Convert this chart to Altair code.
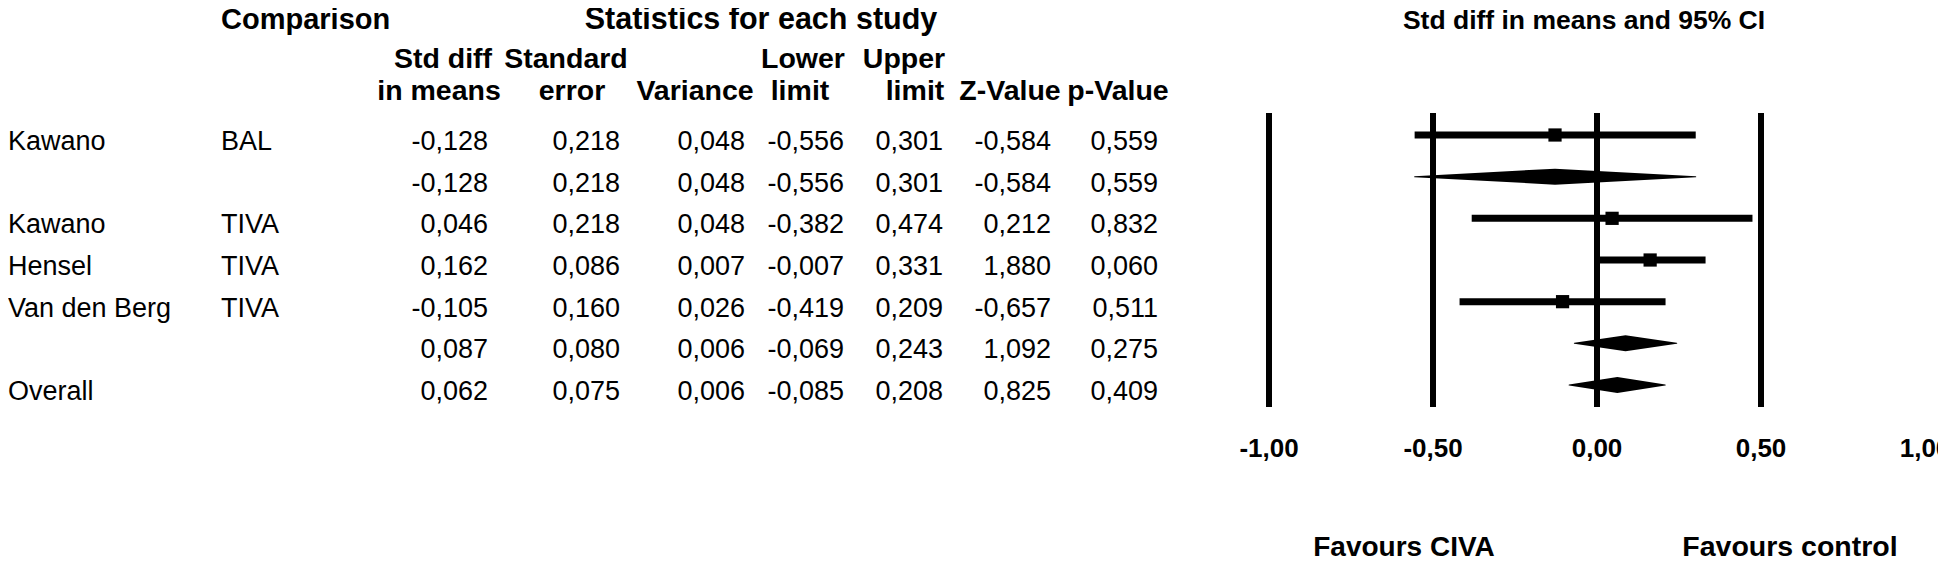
import altair as alt
import pandas as pd

# ---------------- data ----------------
studies = ["Kawano", "", "Kawano", "Hensel", "Van den Berg", "", "Overall"]
comparisons = ["BAL", "", "TIVA", "TIVA", "TIVA", "", ""]
std_diff = [-0.128, -0.128, 0.046, 0.162, -0.105, 0.087, 0.062]
std_err = [0.218, 0.218, 0.218, 0.086, 0.160, 0.080, 0.075]
variance = [0.048, 0.048, 0.048, 0.007, 0.026, 0.006, 0.006]
lower = [-0.556, -0.556, -0.382, -0.007, -0.419, -0.069, -0.085]
upper = [0.301, 0.301, 0.474, 0.331, 0.209, 0.243, 0.208]
z_value = [-0.584, -0.584, 0.212, 1.880, -0.657, 1.092, 0.825]
p_value = [0.559, 0.559, 0.832, 0.060, 0.511, 0.275, 0.409]
row_kind = ["study", "summary", "study", "study", "study", "summary", "summary"]

tick_values = [-1.0, -0.5, 0.0, 0.5, 1.0]
tick_labels = ["-1,00", "-0,50", "0,00", "0,50", "1,00"]
ref_lines = [-1.0, -0.5, 0.0, 0.5]

col_headers = [("Std diff", "in means"), ("Standard", "error"), ("", "Variance"),
               ("Lower", "limit"), ("Upper", "limit"), ("", "Z-Value"), ("", "p-Value")]
side_labels = ["Favours CIVA", "Favours control"]

# ---------------- layout constants ----------------
FONT = "Liberation Sans"
BODY = 27
HEAD = 28.5
W, H = 1930, 550
rows = list(range(len(studies)))

yscale = alt.Scale(domain=[0, 6], range=[127, 377])
xscale = alt.Scale(domain=[-1, 1], range=[1261, 1917])


def fmt(v):
    return f"{v:.3f}".replace(".", ",")


table = pd.DataFrame({
    "row": rows,
    "study": studies,
    "comp": comparisons,
    "c0": [fmt(v) for v in std_diff],
    "c1": [fmt(v) for v in std_err],
    "c2": [fmt(v) for v in variance],
    "c3": [fmt(v) for v in lower],
    "c4": [fmt(v) for v in upper],
    "c5": [fmt(v) for v in z_value],
    "c6": [fmt(v) for v in p_value],
    "est": std_diff,
    "lo": lower,
    "hi": upper,
    "kind": row_kind,
})

Y = alt.Y("row:Q", scale=yscale, axis=None)

layers = []


def text_col(field, xpos, align):
    return alt.Chart(table).mark_text(
        font=FONT, fontSize=BODY, align=align, baseline="alphabetic", dy=15, color="black"
    ).encode(x=alt.value(xpos), y=Y, text=f"{field}:N")


layers.append(text_col("study", 0, "left"))
layers.append(text_col("comp", 213, "left"))
right_edges = [480, 612, 737, 836, 935, 1043, 1150]
for i, xr in enumerate(right_edges):
    layers.append(text_col(f"c{i}", xr, "right"))


def label(txt, x, y, align="center", size=HEAD, bold=True):
    return alt.Chart(pd.DataFrame({"t": [txt]})).mark_text(
        font=FONT, fontSize=size, fontWeight="bold" if bold else "normal",
        align=align, baseline="alphabetic", color="black"
    ).encode(x=alt.value(x), y=alt.value(y), text="t:N")


layers.append(label("Comparison", 213, 21, align="left", size=29))
layers.append(label("Statistics for each study", 753, 21, size=30.5))
layers.append(label("Std diff in means and 95% CI", 1576, 21, size=26.5))

head_centers = [(435, 431), (558, 564), (687, 687), (795, 792), (896, 907), (1002, 1002), (1110, 1110)]
for (l1, l2), (x1, x2) in zip(col_headers, head_centers):
    if l1:
        layers.append(label(l1, x1, 60))
    layers.append(label(l2, x2, 92))

# reference lines
ref_df = pd.DataFrame({"v": ref_lines})
layers.append(alt.Chart(ref_df).mark_rule(color="black", strokeWidth=6).encode(
    x=alt.X("v:Q", scale=xscale, axis=None), y=alt.value(105), y2=alt.value(399)))

# tick labels
tick_df = pd.DataFrame({"v": tick_values, "lab": tick_labels})
layers.append(alt.Chart(tick_df).mark_text(
    font=FONT, fontSize=26, fontWeight="bold", align="center", baseline="alphabetic", color="black"
).encode(x=alt.X("v:Q", scale=xscale, axis=None), y=alt.value(449), text="lab:N"))

# favours labels
layers.append(label(side_labels[0], 1396, 548, size=28))
layers.append(label(side_labels[1], 1782, 548, size=28.5))

# study CI lines and squares
studies_df = table[table["kind"] == "study"]
layers.append(alt.Chart(studies_df).mark_rule(color="black", strokeWidth=7).encode(
    x=alt.X("lo:Q", scale=xscale, axis=None), x2="hi:Q", y=Y))
layers.append(alt.Chart(studies_df).mark_square(color="black", opacity=1, size=175).encode(
    x=alt.X("est:Q", scale=xscale, axis=None), y=Y))

# summary diamonds (trail with width 0 at the limits, full at the estimate)
DIA_W = 16
dia = []
for r, k, lo_, est_, hi_ in zip(rows, row_kind, lower, std_diff, upper):
    if k != "summary":
        continue
    dia.append({"row": r, "k": 0, "x": lo_, "w": 0})
    dia.append({"row": r, "k": 1, "x": est_, "w": DIA_W})
    dia.append({"row": r, "k": 2, "x": hi_, "w": 0})
dia_df = pd.DataFrame(dia)
layers.append(alt.Chart(dia_df).mark_trail(color="black", opacity=1).encode(
    x=alt.X("x:Q", scale=xscale, axis=None),
    y=alt.Y("row:Q", scale=yscale, axis=None),
    size=alt.Size("w:Q", scale=None, legend=None),
    detail="row:N", order="k:O"))

chart = alt.layer(*layers).properties(
    width=W, height=H, padding=0,
    autosize=alt.AutoSizeParams(type="none"),
    background="white",
).configure_view(stroke=None)

chart.save("out.html", embed_options={"renderer": "svg", "actions": False})
